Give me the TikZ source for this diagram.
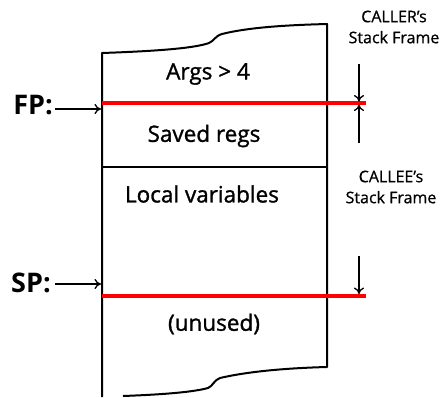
\documentclass[tikz,border=0pt]{standalone}
\usepackage{fontspec}
\setmainfont{Open Sans}
\usetikzlibrary{arrows.meta}
\begin{document}
\begin{tikzpicture}[x=1pt,y=-1pt,
  boxline/.style={line width=2pt, line join=round},
  redline/.style={draw=red, line width=3.4pt},
  ptr/.style={line width=1.3pt, -{To[length=6.5pt,width=10pt,line width=1.3pt]}},
  lbl/.style={font=\fontsize{22.5}{26}\selectfont\addfontfeature{FakeBold=1.3}, inner sep=0pt},
  reg/.style={font=\fontsize{27}{30}\selectfont\bfseries, inner sep=0pt},
  side/.style={font=\fontsize{16}{21}\selectfont\addfontfeature{FakeBold=0.8}, inner sep=0pt, align=center}]
\useasboundingbox (0,0) rectangle (445,397);
% frame outline
\draw[boxline] (102,397) -- (102,53)
  .. controls (160,51) and (195,48) .. (209,43)
  .. controls (214,41) and (215,36) .. (222,34)
  .. controls (250,27) and (290,25) .. (327,24) -- (327,367)
  .. controls (290,368) and (250,371) .. (220,378)
  .. controls (214,380) and (213,386) .. (208,388)
  .. controls (190,393) and (150,395) .. (123,396);
\draw[boxline] (102,167) -- (327,167);
% red pointer lines
\draw[redline] (102,103) -- (366,103);
\draw[redline] (102,296) -- (366,296);
% texts
\node[lbl] (args) at (208,74) {Args > 4};
\node[lbl] (saved) at (204,136) {Saved regs};
\node[lbl] (locals) at (202,194) {Local variables};
\node[lbl] (unused) at (214,324) {(unused)};
\node[reg] (fp) at (33,105) {FP:};
\node[reg] (sp) at (31,283) {SP:};
\node[side] (caller) at (394,27) {CALLER's\\Stack Frame};
\node[side] (callee) at (391,187) {CALLEE's\\Stack Frame};
% pointer arrows
\coordinate (fptip) at (101,109);
\coordinate (sptip) at (101,284);
\coordinate (fpstart) at (55,109);
\coordinate (spstart) at (55,284);
\draw[ptr] (fpstart) -- (fptip);
\draw[ptr] (spstart) -- (sptip);
% right marker arrows
\coordinate (a1s) at (359,64);
\coordinate (a1e) at (359,101.5);
\coordinate (a2s) at (359,143);
\coordinate (a2e) at (359,104.5);
\coordinate (a3s) at (359,256);
\coordinate (a3e) at (359,294);
\draw[ptr] (a1s) -- (a1e);
\draw[ptr] (a2s) -- (a2e);
\draw[ptr] (a3s) -- (a3e);
\end{tikzpicture}
\end{document}
